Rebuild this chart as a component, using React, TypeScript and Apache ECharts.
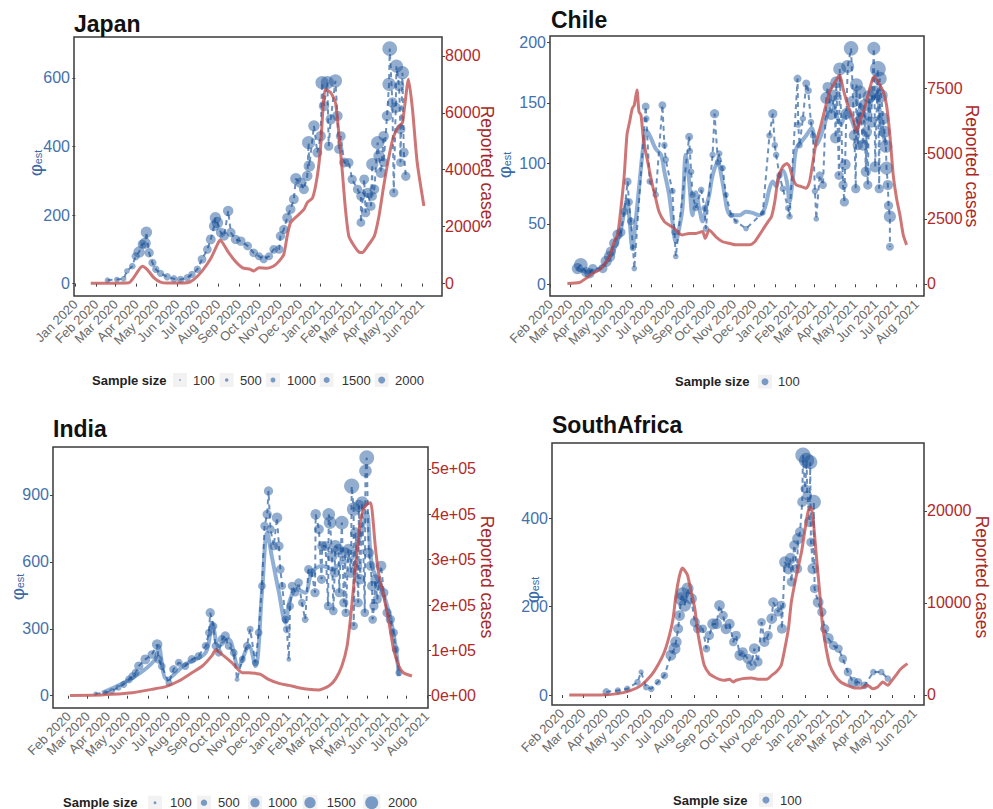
import React, { useEffect, useRef } from 'react';
import * as echarts from 'echarts';

const FONT = '"Liberation Sans", Arial, Helvetica, sans-serif';
const MONTHS = ['Jan', 'Feb', 'Mar', 'Apr', 'May', 'Jun', 'Jul', 'Aug', 'Sep', 'Oct', 'Nov', 'Dec'];

// All x values are days since 2020-01-01.

// ---------------- Japan ----------------
const japanMonths = ['Jan 2020', 'Feb 2020', 'Mar 2020', 'Apr 2020', 'May 2020', 'Jun 2020', 'Jul 2020', 'Aug 2020', 'Sep 2020', 'Oct 2020', 'Nov 2020', 'Dec 2020', 'Jan 2021', 'Feb 2021', 'Mar 2021', 'Apr 2021', 'May 2021', 'Jun 2021'];
const japanPhiTicks = [0, 200, 400, 600];
const japanCaseTicks = [0, 2000, 4000, 6000, 8000];
const japanCases = [[23, 0], [80, 20], [87, 200], [100, 600], [107, 490], [117, 200], [127, 45], [137, 10], [167, 20], [177, 140], [189, 430], [202, 870], [212, 1370], [216, 1520], [227, 1140], [237, 820], [249, 550], [261, 490], [266, 430], [274, 550], [286, 530], [296, 610], [304, 780], [311, 1020], [316, 1660], [321, 2130], [331, 2370], [341, 2600], [346, 2840], [354, 3010], [361, 3780], [366, 4830], [370, 6360], [373, 6830], [381, 6710], [388, 6360], [393, 5300], [398, 4010], [403, 2600], [408, 1660], [416, 1310], [423, 1100], [428, 1080], [436, 1310], [446, 1660], [453, 2370], [460, 3420], [468, 4480], [475, 5180], [483, 5540], [488, 5650], [497, 7180], [503, 6120], [510, 4250], [520, 2720]];
// [day, phi_est, sample size]
const japanPhi = [[48, 10, 300], [62, 12, 300], [72, 14, 300], [77, 37, 300], [85, 51, 400], [90, 80, 600], [95, 92, 1200], [100, 115, 800], [104, 118, 1200], [106, 150, 1200], [110, 90, 800], [115, 61, 600], [120, 42, 500], [127, 30, 500], [137, 20, 500], [147, 14, 500], [157, 12, 500], [167, 17, 500], [174, 27, 500], [182, 42, 500], [189, 71, 700], [197, 100, 700], [202, 129, 900], [207, 168, 1000], [209, 192, 1200], [212, 178, 1200], [217, 149, 900], [222, 139, 800], [228, 212, 1000], [232, 149, 800], [239, 129, 800], [247, 124, 800], [257, 110, 700], [266, 90, 700], [274, 80, 600], [281, 71, 600], [289, 80, 600], [296, 100, 700], [304, 100, 700], [306, 139, 800], [311, 158, 800], [316, 192, 900], [321, 217, 900], [326, 246, 900], [329, 306, 1200], [336, 294, 1000], [341, 275, 900], [346, 314, 1000], [349, 343, 1200], [348, 411, 1600], [356, 460, 1200], [361, 382, 900], [366, 430, 1000], [368, 586, 1600], [371, 518, 1000], [376, 586, 1600], [381, 479, 1000], [388, 591, 1600], [391, 489, 1000], [396, 430, 900], [401, 353, 900], [408, 353, 800], [413, 304, 800], [421, 275, 800], [426, 255, 800], [431, 304, 900], [436, 265, 900], [441, 226, 800], [443, 348, 1400], [446, 275, 900], [451, 411, 1600], [453, 372, 1200], [456, 323, 1000], [460, 430, 1000], [465, 489, 1000], [468, 581, 1600], [473, 528, 1000], [478, 513, 1000], [479, 634, 1600], [483, 576, 1000], [485, 450, 900], [488, 615, 1600], [490, 382, 900], [493, 313, 800], [469, 685, 2000], [378, 401, 800], [393, 392, 800], [460, 353, 800], [475, 265, 800], [485, 353, 700], [443, 255, 800], [433, 207, 800], [426, 178, 700]];
const japanLegend = [100, 500, 1000, 1500, 2000];

// ---------------- Chile ----------------
const chileMonths = ['Feb 2020', 'Mar 2020', 'Apr 2020', 'May 2020', 'Jun 2020', 'Jul 2020', 'Aug 2020', 'Sep 2020', 'Oct 2020', 'Nov 2020', 'Dec 2020', 'Jan 2021', 'Feb 2021', 'Mar 2021', 'Apr 2021', 'May 2021', 'Jun 2021', 'Jul 2021', 'Aug 2021'];
const chilePhiTicks = [0, 50, 100, 150, 200];
const chileCaseTicks = [0, 2500, 5000, 7500];
const chileCases = [[56, 20], [74, 60], [84, 220], [94, 410], [104, 540], [111, 730], [119, 1050], [126, 1620], [131, 1880], [136, 2900], [141, 4180], [145, 5710], [149, 6220], [153, 6730], [156, 6860], [160, 7440], [163, 6600], [166, 6480], [170, 5460], [174, 4950], [179, 4300], [183, 3800], [188, 3280], [193, 2770], [201, 2390], [208, 2260], [216, 2130], [223, 1940], [228, 1880], [238, 1940], [248, 1940], [258, 2010], [262, 1750], [268, 2070], [278, 1810], [288, 1620], [298, 1560], [308, 1500], [318, 1500], [328, 1500], [336, 1620], [343, 1880], [351, 2200], [356, 2390], [361, 2580], [366, 3160], [371, 4050], [378, 4500], [384, 4620], [388, 4500], [393, 4050], [398, 3800], [406, 3730], [413, 3670], [418, 3920], [423, 4690], [428, 5460], [435, 6090], [440, 6610], [448, 7370], [455, 7690], [463, 8010], [468, 7500], [475, 6860], [483, 6350], [488, 5840], [493, 6220], [500, 6730], [508, 7500], [514, 7950], [520, 7760], [528, 7370], [533, 6860], [538, 5710], [543, 4180], [548, 3280], [553, 2650], [558, 1880], [563, 1500]];
const chileSmooth = [[69, 13], [89, 10], [109, 15], [124, 27], [134, 41], [141, 60], [145, 70], [149, 52], [153, 30], [158, 52], [164, 85], [169, 112], [174, 127], [179, 123], [188, 112], [196, 107], [201, 93], [208, 74], [213, 52], [218, 35], [223, 46], [228, 63], [233, 107], [238, 85], [243, 57], [248, 76], [253, 63], [258, 52], [263, 63], [268, 74], [273, 90], [281, 101], [286, 90], [291, 74], [296, 60], [303, 57], [313, 57], [323, 60], [333, 59], [343, 57], [351, 63], [358, 79], [363, 85], [368, 81], [373, 90], [378, 94], [384, 85], [388, 68], [393, 88], [398, 112], [406, 118], [413, 123], [421, 129], [428, 115], [435, 123], [443, 137], [450, 151], [458, 140], [465, 132], [473, 143], [480, 137], [488, 126], [495, 148], [503, 137], [510, 151], [518, 156], [523, 143], [528, 123], [533, 115]];
const chilePhi = [[76, 16, 900], [71, 13, 600], [84, 10, 500], [89, 9, 500], [94, 13, 400], [109, 13, 400], [114, 19, 600], [119, 23, 600], [121, 27, 500], [126, 34, 500], [131, 41, 500], [136, 43, 400], [141, 60, 300], [146, 85, 300], [148, 68, 300], [151, 52, 300], [154, 30, 200], [156, 13, 150], [173, 147, 300], [174, 137, 200], [198, 148, 300], [201, 115, 200], [203, 103, 200], [179, 85, 200], [188, 74, 200], [213, 77, 200], [218, 23, 150], [216, 43, 200], [238, 122, 300], [239, 110, 200], [241, 93, 200], [243, 74, 200], [248, 63, 200], [256, 78, 200], [261, 63, 200], [263, 46, 200], [273, 107, 200], [276, 141, 400], [281, 101, 200], [283, 108, 200], [288, 96, 200], [293, 74, 150], [301, 57, 150], [308, 52, 150], [323, 46, 150], [348, 59, 150], [363, 141, 400], [358, 123, 200], [366, 115, 200], [368, 107, 200], [373, 90, 200], [378, 79, 200], [386, 63, 200], [388, 56, 200], [400, 170, 300], [401, 132, 200], [403, 115, 200], [408, 137, 200], [413, 166, 300], [416, 160, 250], [420, 134, 200], [423, 123, 200], [426, 77, 200], [428, 54, 150], [433, 90, 300], [438, 82, 300], [443, 154, 700], [445, 163, 500], [450, 140, 500], [455, 156, 700], [458, 167, 700], [463, 178, 800], [468, 82, 400], [470, 68, 400], [473, 141, 600], [475, 180, 800], [480, 195, 1000], [483, 151, 700], [485, 123, 600], [488, 165, 800], [493, 159, 800], [495, 137, 600], [498, 115, 600], [500, 148, 700], [503, 126, 600], [507, 155, 800], [510, 134, 600], [514, 195, 800], [515, 159, 800], [520, 178, 1200], [523, 170, 900], [525, 156, 800], [528, 137, 700], [530, 126, 700], [532, 114, 800], [533, 96, 800], [535, 82, 500], [536, 65, 400], [538, 56, 700], [538, 31, 300], [490, 115, 500], [471, 99, 600], [462, 90, 400], [457, 121, 600], [487, 79, 400], [505, 82, 400], [522, 79, 400], [502, 93, 500], [516, 97, 600]];
const chileLegend = [100];

// ---------------- India ----------------
const indiaMonths = ['Feb 2020', 'Mar 2020', 'Apr 2020', 'May 2020', 'Jun 2020', 'Jul 2020', 'Aug 2020', 'Sep 2020', 'Oct 2020', 'Nov 2020', 'Dec 2020', 'Jan 2021', 'Feb 2021', 'Mar 2021', 'Apr 2021', 'May 2021', 'Jun 2021', 'Jul 2021', 'Aug 2021'];
const indiaPhiTicks = [0, 300, 600, 900];
const indiaCaseTicks = [0, 100000, 200000, 300000, 400000, 500000];
const indiaCases = [[33, 500], [67, 800], [97, 3000], [128, 6700], [158, 14000], [179, 19900], [199, 32400], [219, 50700], [235, 65500], [250, 89000], [255, 100700], [265, 91200], [280, 72800], [296, 50700], [306, 50700], [316, 49300], [324, 47100], [336, 36100], [352, 27300], [367, 22800], [382, 17700], [397, 14000], [413, 12500], [428, 21400], [438, 36100], [448, 65500], [456, 109600], [461, 168400], [466, 241900], [471, 315400], [476, 381600], [481, 411000], [486, 422000], [492, 425700], [495, 396300], [499, 330100], [504, 271300], [512, 219900], [520, 161000], [527, 102200], [535, 65500], [542, 50700], [555, 43400]];
const indiaSmooth = [[82, 13], [133, 88], [163, 163], [168, 223], [181, 73], [209, 141], [240, 193], [250, 327], [260, 223], [275, 253], [290, 133], [306, 223], [316, 133], [326, 462], [334, 731], [341, 626], [352, 462], [362, 327], [369, 432], [379, 477], [392, 462], [402, 552], [418, 582], [433, 567], [448, 597], [463, 612], [479, 746], [486, 821], [494, 582], [507, 492], [520, 372], [530, 223], [535, 88]];
const indiaPhi = [[72, 9, 150], [87, 14, 200], [97, 21, 300], [107, 36, 300], [115, 51, 400], [123, 73, 500], [128, 88, 500], [133, 103, 500], [138, 133, 700], [148, 163, 800], [158, 185, 600], [166, 230, 900], [168, 163, 600], [173, 133, 500], [184, 58, 400], [191, 118, 600], [199, 148, 500], [209, 133, 500], [219, 163, 600], [229, 178, 500], [240, 223, 500], [245, 283, 500], [247, 372, 700], [252, 312, 500], [255, 223, 500], [260, 193, 500], [265, 253, 600], [270, 268, 700], [275, 223, 500], [283, 193, 500], [288, 73, 200], [296, 163, 400], [303, 223, 500], [308, 298, 400], [316, 148, 400], [321, 283, 500], [326, 492, 500], [330, 761, 600], [334, 813, 700], [336, 918, 700], [339, 746, 600], [344, 671, 600], [349, 798, 900], [352, 671, 700], [354, 567, 600], [357, 492, 500], [362, 342, 500], [364, 298, 500], [367, 163, 200], [369, 402, 500], [372, 492, 600], [377, 462, 500], [382, 507, 600], [387, 417, 500], [392, 342, 400], [397, 567, 600], [402, 552, 600], [408, 813, 900], [413, 746, 800], [418, 671, 800], [423, 671, 800], [428, 813, 1300], [430, 776, 1300], [433, 626, 1000], [438, 671, 1200], [443, 656, 1000], [448, 776, 1500], [453, 641, 1000], [458, 656, 1000], [463, 940, 1900], [466, 836, 1500], [469, 731, 1000], [471, 582, 900], [474, 851, 1200], [476, 522, 900], [479, 866, 1300], [484, 1008, 1300], [486, 1067, 1800], [489, 641, 900], [492, 582, 800], [494, 492, 800], [497, 402, 700], [499, 522, 800], [502, 432, 700], [504, 492, 700], [508, 582, 900], [512, 462, 700], [517, 372, 700], [522, 342, 700], [527, 283, 600], [530, 208, 500], [535, 103, 400], [407, 462, 700], [417, 522, 700], [427, 402, 600], [437, 552, 800], [444, 462, 700], [454, 372, 600], [462, 552, 900], [473, 417, 700], [483, 372, 600], [495, 342, 600], [435, 380, 600], [451, 417, 700], [466, 313, 600]];
const indiaLegend = [100, 500, 1000, 1500, 2000];

// ---------------- South Africa ----------------
const saMonths = ['Feb 2020', 'Mar 2020', 'Apr 2020', 'May 2020', 'Jun 2020', 'Jul 2020', 'Aug 2020', 'Sep 2020', 'Oct 2020', 'Nov 2020', 'Dec 2020', 'Jan 2021', 'Feb 2021', 'Mar 2021', 'Apr 2021', 'May 2021', 'Jun 2021'];
const saPhiTicks = [0, 200, 400];
const saCaseTicks = [0, 10000, 20000];
const saCases = [[41, 0], [85, 0], [108, 150], [126, 510], [140, 1050], [154, 2140], [163, 3230], [172, 4680], [179, 6490], [184, 8300], [188, 10830], [193, 13010], [197, 13800], [200, 13550], [204, 13010], [209, 11200], [214, 9390], [218, 6850], [223, 4680], [227, 3230], [234, 2320], [241, 1960], [248, 1700], [255, 1600], [262, 1700], [267, 1410], [271, 1600], [280, 1780], [292, 1850], [303, 1700], [313, 1700], [320, 2140], [326, 2500], [333, 3230], [338, 5040], [343, 7210], [347, 10110], [354, 13010], [361, 15540], [366, 18080], [370, 19890], [374, 20440], [377, 19170], [381, 15540], [386, 11200], [390, 7570], [395, 5040], [400, 3230], [407, 2140], [415, 1410], [424, 1050], [434, 760], [443, 760], [452, 1050], [459, 690], [466, 870], [473, 1410], [480, 1050], [484, 1410], [491, 2140], [498, 2860], [507, 3410]];
const saPhi = [[92, 7, 400], [108, 10, 300], [121, 14, 300], [135, 29, 300], [140, 52, 200], [147, 18, 300], [154, 14, 300], [163, 29, 300], [172, 44, 400], [181, 90, 800], [186, 105, 1000], [188, 120, 900], [191, 150, 700], [193, 180, 800], [195, 218, 1200], [197, 229, 1200], [200, 203, 1100], [204, 241, 1000], [209, 218, 900], [214, 165, 700], [218, 150, 600], [225, 150, 500], [230, 105, 400], [234, 135, 600], [239, 161, 900], [244, 161, 800], [248, 203, 800], [253, 180, 600], [257, 150, 800], [262, 161, 700], [267, 120, 500], [271, 135, 600], [276, 90, 800], [280, 97, 700], [287, 82, 700], [292, 67, 800], [296, 105, 800], [301, 75, 600], [306, 165, 500], [310, 120, 700], [320, 173, 800], [322, 210, 700], [329, 188, 600], [333, 203, 600], [338, 301, 900], [343, 286, 900], [346, 309, 900], [351, 339, 700], [356, 354, 900], [359, 369, 700], [362, 437, 700], [366, 467, 600], [369, 452, 600], [372, 392, 800], [374, 346, 600], [377, 286, 900], [379, 241, 600], [384, 210, 800], [389, 188, 600], [393, 150, 600], [398, 128, 800], [405, 112, 600], [412, 105, 500], [418, 82, 500], [425, 52, 500], [432, 29, 800], [439, 29, 500], [448, 22, 400], [460, 52, 300], [471, 52, 300], [480, 37, 300], [363, 543, 1600], [368, 531, 1600], [373, 527, 1400], [378, 437, 1400], [355, 286, 700], [347, 256, 600], [334, 150, 700], [315, 135, 600]];
const saLegend = [100];

// ---------------- helpers ----------------
const DAY0 = Date.UTC(2020, 0, 1);
function monthDay(label: string): number {
  const [m, y] = label.split(' ');
  return Math.round((Date.UTC(+y, MONTHS.indexOf(m), 1) - DAY0) / 86400000);
}
function dayLabel(v: number): string {
  const d = new Date(DAY0 + Math.round(v) * 86400000);
  return MONTHS[d.getUTCMonth()] + ' ' + d.getUTCFullYear();
}
const sci = (v: number) => (v === 0 ? '0e+00' : `${v / 1e5}e+05`);

const BLUE_PT = 'rgba(22,78,150,0.58)';
const BLUE_DASH = 'rgba(28,84,155,0.65)';
const BLUE_SMOOTH = 'rgba(70,122,185,0.6)';
const RED_LINE = 'rgba(190,72,72,0.75)';
const LEFT_LABEL = '#4571ad';
const RIGHT_LABEL = '#b02a2a';

const panels = [
  {
    title: 'Japan', titlePos: [74, 24], grid: { left: 74, top: 37, width: 368, height: 259 },
    xRange: [-2, 547], phiRange: [-36, 719], caseRange: [-447, 8667],
    months: japanMonths, phiTicks: japanPhiTicks, caseTicks: japanCaseTicks, caseFmt: (v: number) => String(v),
    cases: japanCases, phi: japanPhi, smooth: null as number[][] | null, sizeK: 0.33,
    phiPos: [35, 165], casePos: [487, 167],
    legend: { y: 380, titleX: 92, sizes: japanLegend, dotX: [180, 226.7, 273, 326.7, 381.7], textX: [193, 240, 287, 341.7, 395], k: 0.078 },
  },
  {
    title: 'Chile', titlePos: [551, 20], grid: { left: 550, top: 36, width: 374, height: 260 },
    xRange: [30, 589], phiRange: [-9.7, 205.2], caseRange: [-460, 9506],
    months: chileMonths, phiTicks: chilePhiTicks, caseTicks: chileCaseTicks, caseFmt: (v: number) => String(v),
    cases: chileCases, phi: chilePhi, smooth: chileSmooth, sizeK: 0.46,
    phiPos: [504, 167], casePos: [972, 166],
    legend: { y: 381.7, titleX: 675, sizes: chileLegend, dotX: [765], textX: [778], k: 0.35 },
  },
  {
    title: 'India', titlePos: [53, 429], grid: { left: 53, top: 447, width: 375, height: 261 },
    xRange: [7, 579.5], phiRange: [-55, 1115], caseRange: [-27100, 548500],
    months: indiaMonths, phiTicks: indiaPhiTicks, caseTicks: indiaCaseTicks, caseFmt: sci,
    cases: indiaCases, phi: indiaPhi, smooth: indiaSmooth, sizeK: 0.35,
    phiPos: [17, 589], casePos: [487, 577],
    legend: { y: 802.7, titleX: 63, sizes: indiaLegend, dotX: [155, 204, 255, 310, 371.7], textX: [170, 218, 268, 326.7, 388], k: 0.145 },
  },
  {
    title: 'SouthAfrica', titlePos: [552, 425], grid: { left: 552, top: 443, width: 372, height: 262 },
    xRange: [17.2, 529.8], phiRange: [-22.6, 570.5], caseRange: [-1087, 27390],
    months: saMonths, phiTicks: saPhiTicks, caseTicks: saCaseTicks, caseFmt: (v: number) => String(v),
    cases: saCases, phi: saPhi, smooth: null as number[][] | null, sizeK: 0.38,
    phiPos: [532, 592], casePos: [982, 577],
    legend: { y: 800, titleX: 673, sizes: saLegend, dotX: [766], textX: [780], k: 0.35 },
  },
];

function buildOption() {
  const grid: any[] = [];
  const xAxis: any[] = [];
  const yAxis: any[] = [];
  const series: any[] = [];
  const graphic: any[] = [];

  panels.forEach((p, i) => {
    grid.push({ ...p.grid, show: true, borderColor: '#3a3a3a', borderWidth: 1.5, backgroundColor: '#fff', containLabel: false, outerBoundsMode: 'none' });
    const monthDays = p.months.map(monthDay);
    xAxis.push({
      type: 'value', gridIndex: i, min: p.xRange[0], max: p.xRange[1],
      axisLine: { show: false }, splitLine: { show: false },
      axisTick: { show: true, customValues: monthDays, length: 3, lineStyle: { color: '#444', width: 1 } },
      axisLabel: { customValues: monthDays, rotate: 45, formatter: dayLabel, color: '#6b6b6b', fontSize: 13, fontFamily: FONT, margin: 6 },
    });
    yAxis.push({
      type: 'value', gridIndex: i, position: 'left', min: p.phiRange[0], max: p.phiRange[1],
      axisLine: { show: false }, splitLine: { show: false },
      axisTick: { show: true, customValues: p.phiTicks, length: 3, lineStyle: { color: '#444' } },
      axisLabel: { customValues: p.phiTicks, color: LEFT_LABEL, fontSize: 16, fontFamily: FONT, margin: 4 },
    });
    yAxis.push({
      type: 'value', gridIndex: i, position: 'right', min: p.caseRange[0], max: p.caseRange[1],
      axisLine: { show: false }, splitLine: { show: false },
      axisTick: { show: true, customValues: p.caseTicks, length: 3, lineStyle: { color: '#444' } },
      axisLabel: { customValues: p.caseTicks, formatter: p.caseFmt, color: RIGHT_LABEL, fontSize: 16, fontFamily: FONT, margin: 3 },
    });

    const sorted = p.phi.slice().sort((a, b) => a[0] - b[0]).map((d) => [d[0], d[1]]);
    if (p.smooth) {
      series.push({
        type: 'line', xAxisIndex: i, yAxisIndex: 2 * i, data: p.smooth, showSymbol: false, smooth: 0.35,
        lineStyle: { color: BLUE_SMOOTH, width: 4 }, z: 2, silent: true,
      });
    }
    series.push({
      type: 'line', xAxisIndex: i, yAxisIndex: 2 * i, data: sorted, showSymbol: false,
      lineStyle: { color: BLUE_DASH, width: 2, type: [5, 4] }, z: 3, silent: true,
    });
    const k = p.sizeK;
    series.push({
      type: 'scatter', xAxisIndex: i, yAxisIndex: 2 * i, data: p.phi,
      symbolSize: (v: number[]) => Math.max(3, k * Math.sqrt(v[2])),
      itemStyle: { color: BLUE_PT }, z: 4, silent: true,
    });
    series.push({
      type: 'line', xAxisIndex: i, yAxisIndex: 2 * i + 1, data: p.cases, showSymbol: false, smooth: 0.2,
      lineStyle: { color: RED_LINE, width: 3 }, z: 5, silent: true,
    });

    // title
    graphic.push({
      type: 'text', x: p.titlePos[0], y: p.titlePos[1],
      style: { text: p.title, fill: '#111', font: `bold 23px ${FONT}`, textAlign: 'left', textVerticalAlign: 'middle' },
    });
    // left axis name  φ_est
    graphic.push({
      type: 'group', x: p.phiPos[0], y: p.phiPos[1], rotation: Math.PI / 2,
      children: [
        { type: 'text', x: -5, y: 0, style: { text: 'φ', fill: '#3a68a8', font: `19px ${FONT}`, textAlign: 'center', textVerticalAlign: 'middle' } },
        { type: 'text', x: 8, y: 3, style: { text: 'est', fill: '#3a68a8', font: `11px ${FONT}`, textAlign: 'center', textVerticalAlign: 'middle' } },
      ],
    });
    // right axis name
    graphic.push({
      type: 'text', x: p.casePos[0], y: p.casePos[1], rotation: -Math.PI / 2,
      style: { text: 'Reported cases', fill: '#a82828', font: `17.5px ${FONT}`, textAlign: 'center', textVerticalAlign: 'middle' },
    });
    // legend
    const L = p.legend;
    graphic.push({
      type: 'text', x: L.titleX, y: L.y,
      style: { text: 'Sample size', fill: '#222', font: `bold 13px ${FONT}`, textAlign: 'left', textVerticalAlign: 'middle' },
    });
    L.sizes.forEach((n, j) => {
      const r = Math.max(0.8, L.k * Math.sqrt(n));
      const s = Math.max(14, 2 * r + 4);
      graphic.push({ type: 'rect', shape: { x: L.dotX[j] - s / 2, y: L.y - s / 2, width: s, height: s }, style: { fill: '#f2f2f2' } });
      graphic.push({ type: 'circle', shape: { cx: L.dotX[j], cy: L.y, r }, style: { fill: 'rgba(40,95,165,0.6)' } });
      graphic.push({
        type: 'text', x: L.textX[j], y: L.y,
        style: { text: String(n), fill: '#333', font: `13px ${FONT}`, textAlign: 'left', textVerticalAlign: 'middle' },
      });
    });
  });

  return { animation: false, backgroundColor: '#fff', grid, xAxis, yAxis, series, graphic };
}

export default function App() {
  const ref = useRef<HTMLDivElement>(null);
  useEffect(() => {
    if (!ref.current) return;
    const chart = echarts.init(ref.current, undefined, { renderer: 'svg' });
    chart.setOption(buildOption() as any);
    return () => chart.dispose();
  }, []);
  return <div ref={ref} style={{ position: 'fixed', left: 0, top: 0, width: 993, height: 809, background: '#fff' }} />;
}
